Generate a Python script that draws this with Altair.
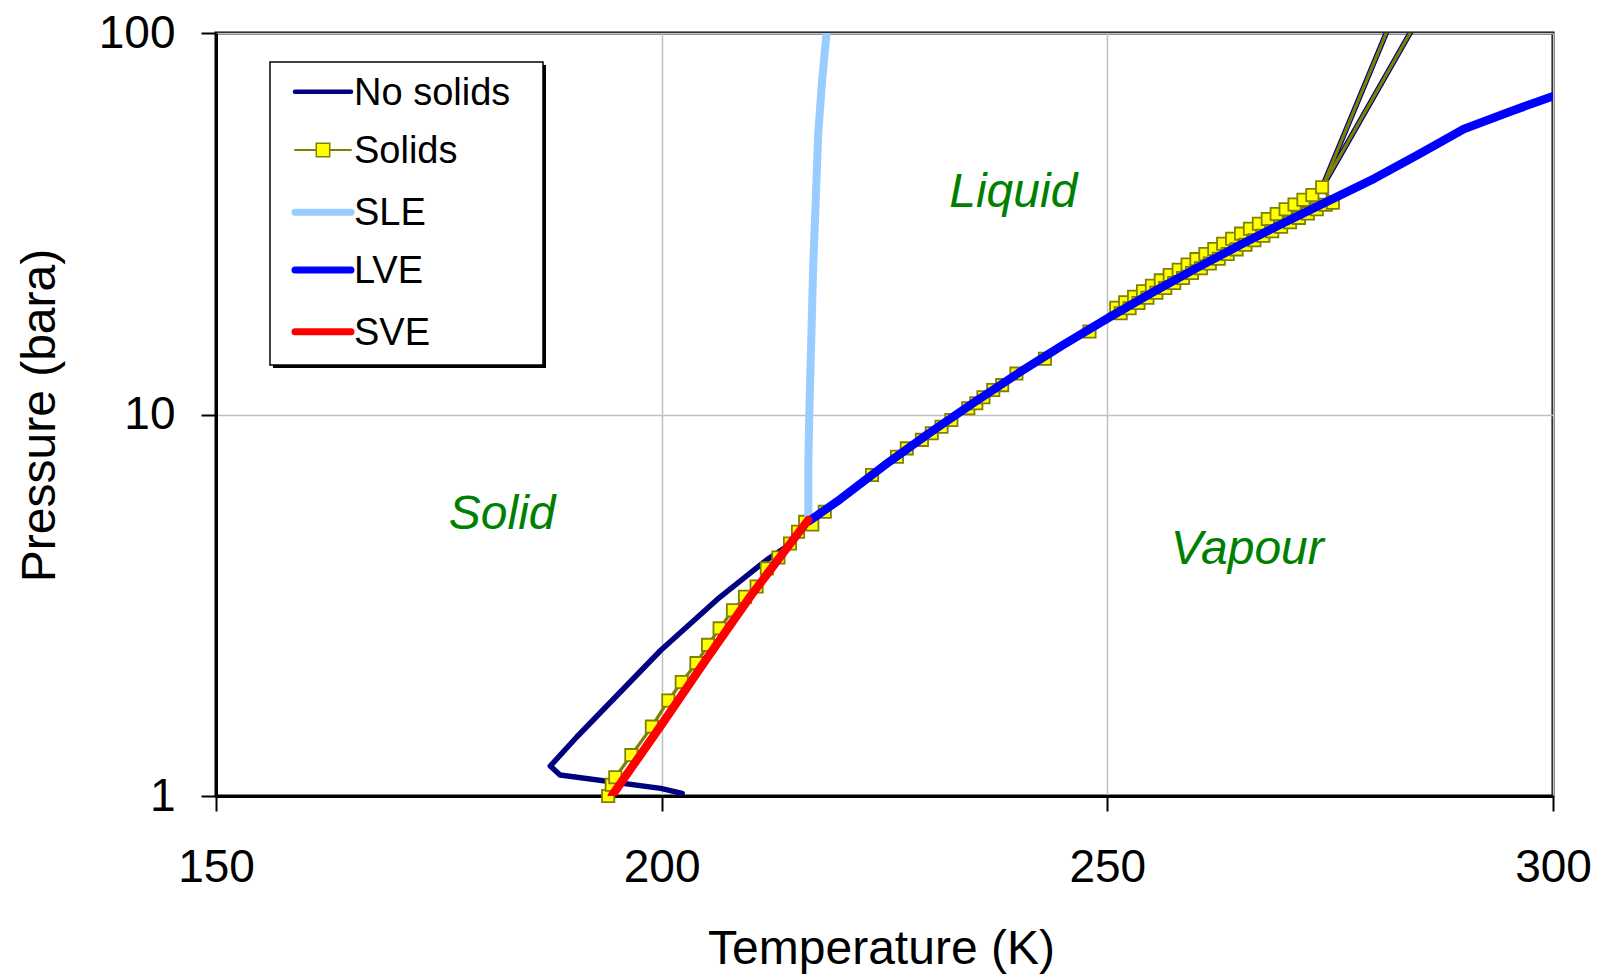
import altair as alt
import pandas as pd

FONT = "Liberation Sans"

# ---- Phase boundaries (temperature in K, pressure in bara) ----
# Solid-liquid equilibrium
sle_T = [216.45, 216.45, 216.56, 217.0, 217.57, 218.0, 218.5]
sle_P = [5.3, 7.3, 10.0, 24.4, 54.7, 75.0, 100.0]

# Liquid-vapour equilibrium
lve_T = [216.5, 220, 225, 230, 235, 240, 245, 250, 255, 260, 265, 270,
         275, 280, 285, 290, 295, 300]
lve_P = [5.25, 5.99, 7.36, 8.93, 10.73, 12.83, 15.2, 17.85, 20.85, 24.19,
         27.89, 31.97, 36.47, 41.6, 48.2, 56.0, 62.0, 68.3]

# Solid-vapour equilibrium
sve_T = [194.4, 200.0, 205.0, 210.0, 213.5, 216.45]
sve_P = [1.0, 1.54, 2.28, 3.35, 4.3, 5.29]

# Envelope without solids: low-pressure branch
ns_T = [202.3, 199.9, 188.6, 187.5, 190.5, 199.9, 206.2, 211.8, 214.0, 216.5]
ns_P = [1.016, 1.047, 1.135, 1.198, 1.43, 2.41, 3.27, 4.16, 4.50, 5.25]

# Envelope with solids: points along the sublimation and vapour-pressure lines
sol_T = [194.0, 194.4, 194.8, 196.6, 198.9, 200.75, 202.25, 203.9, 205.2,
         206.5, 208.0, 209.35, 210.65, 211.8, 213.1, 214.4, 215.3, 216.1,
         216.9, 218.3, 223.6, 226.4, 227.5, 229.2, 230.3, 231.4, 232.5,
         234.4, 235.3, 236.1, 237.2, 238.2, 239.8, 243.0, 248.0]
sol_P = [1.0, 1.07, 1.12, 1.28, 1.52, 1.78, 1.99, 2.23, 2.49, 2.75, 3.07,
         3.33, 3.54, 3.95, 4.22, 4.59, 4.93, 5.23, 5.15, 5.56, 6.94, 7.75,
         8.15, 8.58, 8.93, 9.29, 9.67, 10.38, 10.7, 11.1, 11.6, 11.94, 12.8,
         14.0, 16.5]

# Dew-side points of the solids envelope
dew_T = [251, 252, 253, 254, 255, 256, 257, 258, 259, 260, 261, 262, 263,
         264, 265, 266, 267, 268, 269, 270, 271, 272, 273]
dew_P = [19.04, 19.68, 20.35, 21.04, 21.76, 22.47, 23.21, 23.96, 24.74,
         25.54, 26.34, 27.16, 28.02, 28.89, 29.79, 30.68, 31.61, 32.55,
         33.53, 34.53, 35.53, 36.56, 37.63]

# Bubble-side points of the solids envelope
bub_T = [251.5, 252.5, 253.5, 254.5, 255.5, 256.5, 257.5, 258.5, 259.5,
         260.5, 261.5, 262.5, 263.5, 264.5, 265.5, 266.5, 267.5, 268.5,
         269.5, 270.5, 271.5, 272.5, 273.5, 274.5, 275.3]
bub_P = [18.42, 19.00, 19.60, 20.22, 20.84, 21.47, 22.12, 22.79, 23.48,
         24.17, 24.87, 25.59, 26.33, 27.09, 27.85, 28.62, 29.41, 30.23,
         31.07, 31.90, 32.76, 33.64, 34.53, 35.45, 35.9]

# Cricondenbar region: vertex and the two branches leaving the top of the plot
vtx_T, vtx_P = 274.1, 39.4
top_T = [282.7, 285.9]
top_P = [120.0, 120.0]

# Region labels
region_text = ["Liquid", "Solid", "Vapour"]
region_T = [239.45, 182.1, 265.7]
region_P = [35.0, 5.0, 4.05]

legend_names = ["No solids", "Solids", "SLE", "LVE", "SVE"]


def path(Ts, Ps, seg=0):
    return pd.DataFrame({"T": Ts, "P": Ps, "seg": seg, "order": range(len(Ts))})


nosolid_df = pd.concat([
    path(ns_T + lve_T[1:12] + [vtx_T, top_T[0]],
         ns_P + lve_P[1:12] + [vtx_P, top_P[0]], 0),
    path([top_T[1], vtx_T], [top_P[1], vtx_P], 1),
])
solid_line_df = pd.concat([
    path(sol_T + dew_T + [vtx_T, top_T[0]], sol_P + dew_P + [vtx_P, top_P[0]], 0),
    path([top_T[1], vtx_T] + bub_T[::-1], [top_P[1], vtx_P] + bub_P[::-1], 1),
])
solid_pts_df = pd.DataFrame({
    "T": sol_T + dew_T + [vtx_T] + bub_T,
    "P": sol_P + dew_P + [vtx_P] + bub_P,
})
sle_df = path(sle_T, sle_P)
lve_df = path(lve_T, lve_P)
sve_df = path(sve_T, sve_P)
region_df = pd.DataFrame({"T": region_T, "P": region_P, "label": region_text})

x_axis = alt.Axis(
    values=[150, 200, 250, 300], format="d", title="Temperature (K)",
    labelFontSize=46, labelPadding=34, labelFlush=False, labelOverlap=False,
    tickSize=15, titleFontSize=48, titleX=665, titleY=167,
    titleBaseline="alphabetic", titleAlign="center",
)
y_axis = alt.Axis(
    values=[1, 10, 100], format="d", title="Pressure (bara)",
    labelFontSize=46, labelPadding=26, labelFlush=False, labelOverlap=False,
    tickSize=15, titleFontSize=48, titleX=-162, titleY=382, titleAngle=270,
    titleBaseline="alphabetic", titleAlign="center",
)
X = alt.X("T:Q", scale=alt.Scale(domain=[150, 300], nice=False, zero=False), axis=x_axis)
Y = alt.Y("P:Q", scale=alt.Scale(type="log", domain=[1, 100], nice=False), axis=y_axis)
ORDER = alt.Order("order:Q")


def curve(df, color, width):
    return alt.Chart(df).mark_line(
        color=color, strokeWidth=width, clip=True, strokeCap="round", strokeJoin="round"
    ).encode(x=X, y=Y, detail="seg:N", order=ORDER)


nosolid = curve(nosolid_df, "#000080", 5.5)
solid_line = curve(solid_line_df, "#808000", 3.2)
solid_pts = alt.Chart(solid_pts_df).mark_point(
    shape="square", filled=True, fill="#ffff00", stroke="#808000",
    strokeWidth=1.8, size=150, opacity=1,
).encode(x=X, y=Y)
sle = curve(sle_df, "#99ccff", 8)
lve = curve(lve_df, "#0000ff", 8.5)
sve = curve(sve_df, "#ff0000", 8.5)

regions = alt.Chart(region_df).mark_text(
    font=FONT, fontSize=48, fontStyle="italic", color="#008000",
    align="center", baseline="alphabetic",
).encode(x=X, y=Y, text="label:N")

# ---- Legend box (pixel positions inside the plot area) ----
one = pd.DataFrame({"k": [0]})
box_x0, box_x1, box_y0, box_y1 = 54, 327, 29, 332
legend_layers = [
    alt.Chart(one).mark_rect(color="black").encode(
        x=alt.value(box_x0 + 3), x2=alt.value(box_x1 + 3),
        y=alt.value(box_y0 + 3), y2=alt.value(box_y1 + 3)),
    alt.Chart(one).mark_rect(fill="white", stroke="black", strokeWidth=1.5).encode(
        x=alt.value(box_x0), x2=alt.value(box_x1),
        y=alt.value(box_y0), y2=alt.value(box_y1)),
]
row_y = [58.7, 117, 179.3, 237, 298.7]
sym_colors = ["#000080", "#808000", "#99ccff", "#0000ff", "#ff0000"]
sym_widths = [4.5, 2, 7, 7, 7]
for name, ry, col, w in zip(legend_names, row_y, sym_colors, sym_widths):
    legend_layers.append(
        alt.Chart(one).mark_rule(color=col, strokeWidth=w, strokeCap="round").encode(
            x=alt.value(79), x2=alt.value(135), y=alt.value(ry)))
    legend_layers.append(
        alt.Chart(one).mark_text(
            text=name, font=FONT, fontSize=38, color="black",
            align="left", baseline="middle", dy=2,
        ).encode(x=alt.value(138), y=alt.value(ry)))
legend_layers.append(
    alt.Chart(one).mark_point(
        shape="square", filled=True, fill="#ffff00", stroke="#808000",
        strokeWidth=1.5, size=180, opacity=1,
    ).encode(x=alt.value(107), y=alt.value(row_y[1])))

chart = alt.layer(
    nosolid, solid_line, solid_pts, sle, lve, sve, regions, *legend_layers
).properties(
    width=1337, height=763,
    padding={"left": 216, "top": 33, "right": 45, "bottom": 179},
    autosize=alt.AutoSizeParams(type="none"),
    background="white",
).configure_view(
    stroke="black", strokeWidth=3,
).configure_axis(
    labelFont=FONT, titleFont=FONT, labelColor="black", titleColor="black",
    titleFontWeight="normal", domainColor="black", domainWidth=3,
    tickColor="black", tickWidth=2, gridColor="#c0c0c0", gridWidth=1.5,
)

chart.save("out.html", embed_options={"renderer": "svg", "actions": False})
